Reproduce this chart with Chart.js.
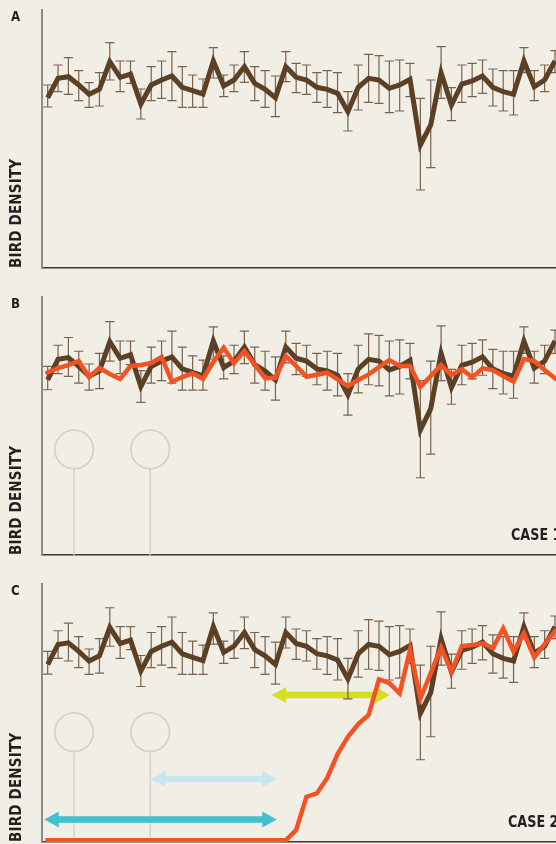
<!DOCTYPE html>
<html><head><meta charset="utf-8">
<script src="https://cdn.jsdelivr.net/npm/chart.js@4.4.1/dist/chart.umd.min.js"></script>
<style>
html,body{margin:0;padding:0;background:#f1eee6;overflow:hidden;width:556px;height:844px;}
.panel{position:relative;width:556px;height:287px;overflow:hidden;}
canvas{position:absolute;left:0;top:0;}
.lbl{position:absolute;font-family:'DejaVu Sans',sans-serif;font-weight:bold;color:#231f20;white-space:nowrap;line-height:1;transform-origin:0 0;}
.letter{font-size:14px;left:11px;top:9px;transform:scaleX(.85);}
.ylab{font-size:15px;left:9px;top:268px;transform:rotate(-90deg) scaleX(.9);letter-spacing:0.2px;}
.case{font-size:15px;top:241px;transform:scaleX(.85);}
</style></head>
<body>
<div class="panel"><canvas id="cA" width="556" height="287"></canvas>
  <div class="lbl letter">A</div><div class="lbl ylab">BIRD DENSITY</div></div>
<div class="panel"><canvas id="cB" width="556" height="287"></canvas>
  <div class="lbl letter">B</div><div class="lbl ylab">BIRD DENSITY</div><div class="lbl case" style="left:511px">CASE 1</div></div>
<div class="panel"><canvas id="cC" width="556" height="287"></canvas>
  <div class="lbl letter">C</div><div class="lbl ylab">BIRD DENSITY</div><div class="lbl case" style="left:508px">CASE 2</div></div>
<script>
// ---- data ----
const surveys = [0,1,2,3,4,5,6,7,8,9,10,11,12,13,14,15,16,17,18,19,20,21,22,23,24,25,26,27,28,29,30,31,32,33,34,35,36,37,38,39,40,41,42,43,44,45,46,47,48,49];
const observed = [170.3,189.7,191.3,183,173.7,178.7,206.3,190.7,194,164,183,188,192,180.7,177.3,174,207,182,188,201.3,184.7,178.7,170.3,201.3,190.7,188,180.7,178.7,174.7,156.3,180.7,189.7,188,179.7,183,188.7,123,143,195.3,163,184,187,192,180.7,176.3,173.7,207,181.3,188,207];
const observedHigh = [183,203,210.3,197.3,185.3,195.3,225.3,207,207,179,201.3,207,216.3,201.3,193,189,220.3,193,203,216.3,201.3,197.3,192,216.3,204.7,203,195.3,197.3,195.3,176.3,203,213.7,212.3,207,208,204.7,169.7,188,221.3,180.3,203,204.7,208,199,197.3,197.3,220.3,197.3,203,217.3];
const observedLow = [161,176.3,173.7,167.3,160.7,162,188,176.3,184.7,149,167.3,169.7,167.3,160.7,160.7,160.7,190,171.3,176.3,185.7,167.3,160.7,151.3,186.3,175.3,173.7,165.7,160.7,155.3,137,158,165.7,164.7,155.3,157,171.3,78,100.3,169.7,147.3,165.7,171.3,174.7,162,157,153,195.3,167.3,176.3,195.3];
const case1 = [177.2,181.5,184.3,188.1,173,181.5,175.8,171.1,183.4,184.3,186.2,191.9,168.6,173,176.5,171.1,187.1,200.6,185.9,197.5,184.6,171.8,172.3,192.8,183.4,173.3,175.2,177.1,170.8,164.5,170.2,175.5,182.4,189,183.4,183.4,163.8,173.9,184.3,174.9,180.3,172.7,181.2,179.6,173.9,168.6,190,188.1,179.6,171.8];
const case2 = [0,0,0,0,0,0,0,0,0,0,0,0,0,0,0,0,0,0,0,0,0,0,0,0,9.9,42.2,45.4,60.3,83.5,100.3,112.6,121.3,155.9,152.3,142.3,184.3,137.5,162,186.9,163.3,188.2,189.1,190.8,186,205.3,182.7,200.5,177.2,190.1,202.7];
const pinPositions = [2.55, 9.9];
const pinLevel = 104.7;
const arrowSpans = [
  {from: 21.64, to: 33.07, y: 140.7, color: '#d5de20'},
  {from: 9.95, to: 22.13, y: 59.3, color: '#c8e6ee'},
  {from: -0.33, to: 22.13, y: 20.1, color: '#40c1cc'}
];
const BROWN = '#5c4026', ORANGE = '#f25224';

// ---- overlay plugin (pins, arrows, error bars) drawn through the scales ----
const overlay = {
  id: 'overlay',
  beforeDatasetsDraw(chart, args, opts) {
    const {ctx, scales: {x, y}} = chart;
    ctx.save();
    ctx.beginPath();
    ctx.rect(chart.chartArea.left, chart.chartArea.top - 5, chart.chartArea.width, chart.chartArea.height + 5);
    ctx.clip();
    if (opts.pins) {
      const r = 19.3;
      opts.pins.forEach(px0 => {
        const cx = x.getPixelForValue(px0), cy = y.getPixelForValue(pinLevel);
        ctx.strokeStyle = '#d3d2ce'; ctx.lineWidth = 1.8;
        ctx.beginPath(); ctx.arc(cx, cy, r, 0, Math.PI * 2); ctx.stroke();
        ctx.lineWidth = 1.5;
        ctx.beginPath(); ctx.moveTo(cx, cy + r); ctx.lineTo(cx, chart.chartArea.bottom); ctx.stroke();
      });
    }
    if (opts.arrows) {
      const hl = 14.5, hh = 8, sw = 6.4;
      opts.arrows.forEach(a => {
        const x1 = x.getPixelForValue(a.from), x2 = x.getPixelForValue(a.to), yy = y.getPixelForValue(a.y);
        ctx.fillStyle = a.color;
        ctx.beginPath();
        ctx.moveTo(x1, yy);
        ctx.lineTo(x1 + hl, yy - hh);
        ctx.lineTo(x1 + hl, yy - sw / 2);
        ctx.lineTo(x2 - hl, yy - sw / 2);
        ctx.lineTo(x2 - hl, yy - hh);
        ctx.lineTo(x2, yy);
        ctx.lineTo(x2 - hl, yy + hh);
        ctx.lineTo(x2 - hl, yy + sw / 2);
        ctx.lineTo(x1 + hl, yy + sw / 2);
        ctx.lineTo(x1 + hl, yy + hh);
        ctx.closePath(); ctx.fill();
      });
    }
    if (opts.errorBars) {
      ctx.strokeStyle = 'rgba(92,64,38,0.8)';
      ctx.lineWidth = 1.2;
      const cap = 4.6;
      surveys.forEach((s, i) => {
        const px = x.getPixelForValue(s);
        const yh = y.getPixelForValue(observedHigh[i]);
        const yl = y.getPixelForValue(observedLow[i]);
        ctx.beginPath();
        ctx.moveTo(px, yh); ctx.lineTo(px, yl);
        ctx.moveTo(px - cap, yh); ctx.lineTo(px + cap, yh);
        ctx.moveTo(px - cap, yl); ctx.lineTo(px + cap, yl);
        ctx.stroke();
      });
    }
    ctx.restore();
  }
};

function brownSet() {
  return {data: observed, borderColor: BROWN, borderWidth: 5, pointRadius: 0, tension: 0,
          borderJoinStyle: 'miter', borderCapStyle: 'butt', order: 2};
}
function orangeSet(vals) {
  return {data: vals, borderColor: ORANGE, borderWidth: 4.5, pointRadius: 0, tension: 0,
          borderJoinStyle: 'miter', borderCapStyle: 'square', order: 1};
}

function makePanel(id, yMin, yMax, datasets, ov) {
  new Chart(document.getElementById(id), {
    type: 'line',
    data: {labels: surveys, datasets},
    plugins: [overlay],
    options: {
      responsive: false, animation: false, devicePixelRatio: 1, events: [],
      layout: {padding: {top: 10, right: 0, bottom: 19, left: 42}},
      plugins: {legend: {display: false}, tooltip: {enabled: false}, overlay: ov},
      scales: {
        x: {type: 'linear', min: -0.55, max: 49.1,
            grid: {display: false, drawTicks: false, tickLength: 0}, ticks: {display: false},
            border: {display: true, color: '#3b3835', width: 1.6}},
        y: {type: 'linear', min: yMin, max: yMax,
            grid: {display: false, drawTicks: false, tickLength: 0}, ticks: {display: false},
            border: {display: true, color: '#8c8a86', width: 2}}
      }
    }
  });
}

makePanel('cA', 0, 258, [brownSet()], {errorBars: true});
makePanel('cB', 5.1, 248.5, [orangeSet(case1), brownSet()], {errorBars: true, pins: pinPositions});
makePanel('cC', -1.7, 248.3, [orangeSet(case2), brownSet()], {errorBars: true, pins: pinPositions, arrows: arrowSpans});
</script>
</body></html>
